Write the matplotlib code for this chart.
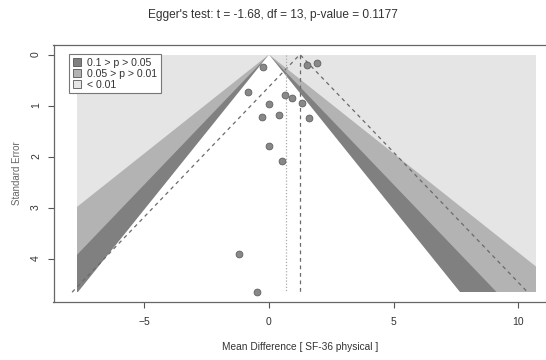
import matplotlib
matplotlib.use("Agg")
import matplotlib.pyplot as plt
from matplotlib.patches import Polygon, Rectangle, Patch

plt.rcParams['font.family'] = ['Liberation Sans', 'DejaVu Sans']

# Study estimates: mean difference and its standard error
md = [-0.25, -0.85, 0.00, -0.29, 0.40, 0.64, 0.92, 1.31, 1.62, 1.54, 1.91,
      0.00, 0.51, -1.19, -0.47]
se = [0.25, 0.74, 0.98, 1.22, 1.19, 0.79, 0.85, 0.96, 1.24, 0.21, 0.16,
      1.80, 2.09, 3.91, 4.66]

fixed_est = 1.24     # common effect estimate
random_est = 0.68    # random effects estimate

# contour levels (z for p = 0.10, 0.05, 0.01) and their fills
contour_z = [2.576, 1.960, 1.645]
contour_col = ['#b3b3b3', '#808080', 'white']
background_col = '#e5e5e5'
shade_x = [-7.7, 10.7]

legend_labels = ['0.1 > p > 0.05', '0.05 > p > 0.01', '< 0.01']
legend_cols = ['#808080', '#b3b3b3', '#e5e5e5']

title = "Egger's test: t = -1.68, df = 13, p-value = 0.1177"
xlabel = 'Mean Difference [ SF-36 physical ]'
ylabel = 'Standard Error'

text_col = '#333333'
se_max = max(se)

fig = plt.figure(figsize=(5.46, 3.6), dpi=100)
# the right edge of the plot box runs just past the figure edge
ax = fig.add_axes([53.5 / 546, (360 - 301.7) / 360,
                   494.5 / 546, 256.7 / 360])

# shaded significance contours, centred on zero
rect = Rectangle((shade_x[0], 0), shade_x[1] - shade_x[0], se_max,
                 facecolor=background_col, edgecolor='none', zorder=1)
ax.add_patch(rect)
for z, col in zip(contour_z, contour_col):
    tri = Polygon([(0, 0), (-z * se_max, se_max), (z * se_max, se_max)],
                  closed=True, facecolor=col, edgecolor='none', zorder=2)
    ax.add_patch(tri)
    tri.set_clip_path(rect)

# pseudo confidence funnel around the common effect
ax.plot([fixed_est - 1.96 * se_max, fixed_est, fixed_est + 1.96 * se_max],
        [se_max, 0, se_max], color='#6a6a6a', lw=0.9, ls=(0, (3, 3)),
        zorder=3)
ax.plot([fixed_est, fixed_est], [0, se_max], color='#6a6a6a', lw=0.9,
        ls=(0, (3, 3)), zorder=3)
ax.plot([random_est, random_est], [0, se_max], color='#aaaaaa', lw=0.9,
        ls=(0, (1, 1.5)), zorder=3)

ax.scatter(md, se, s=24, facecolor='#888888', edgecolor='#606060',
           linewidths=0.6, zorder=4)

ax.set_xlim(-8.64, 11.19)
ax.set_ylim(se_max * 1.04, -0.04 * se_max)
ax.set_xticks([-5, 0, 5, 10])
ax.set_yticks([0, 1, 2, 3, 4])
ax.tick_params(axis='both', direction='out', length=4, width=0.8,
               color='#555555', labelsize=7.5, labelcolor=text_col)
ax.tick_params(axis='x', pad=7)
ax.tick_params(axis='y', pad=5)
for lab in ax.get_yticklabels():
    lab.set_rotation(90)
    lab.set_va('center')
for sp in ax.spines.values():
    sp.set_color('#666666')
    sp.set_linewidth(0.9)

handles = [Patch(facecolor=c, edgecolor='#555555', linewidth=0.6)
           for c in legend_cols]
leg = ax.legend(handles, legend_labels, loc='upper left',
                bbox_to_anchor=(0.031, 0.965), fontsize=7.6,
                handlelength=0.8, handleheight=0.7, handletextpad=0.6,
                labelspacing=0.1, borderpad=0.35, borderaxespad=0,
                fancybox=False, framealpha=1, edgecolor='#777777')
leg.get_frame().set_linewidth(0.8)
for t in leg.get_texts():
    t.set_color(text_col)

fig.text(0.5, 1 - 15 / 360, title, ha='center', va='center', fontsize=8.6,
         color=text_col)
fig.text(300 / 546, 1 - 347 / 360, xlabel, ha='center', va='center',
         fontsize=7.3, color=text_col)
fig.text(17 / 546, 1 - 173 / 360, ylabel, ha='center', va='center',
         rotation=90, fontsize=7, color='#666666')

fig.savefig('out.png', dpi=100)
